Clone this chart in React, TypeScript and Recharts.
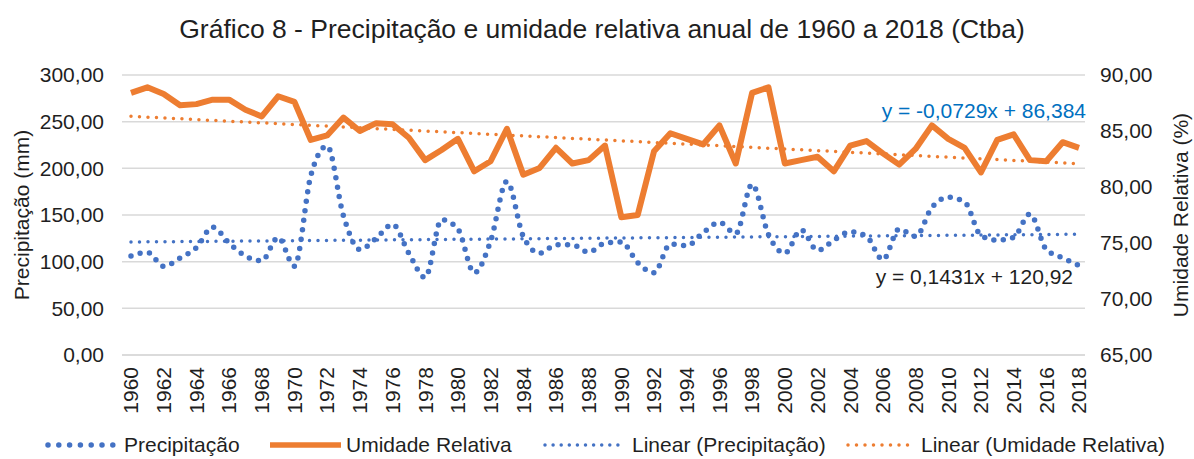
import { ComposedChart, Line, XAxis, YAxis, CartesianGrid } from 'recharts';

const years = [
  1960, 1961, 1962, 1963, 1964, 1965, 1966, 1967, 1968, 1969,
  1970, 1971, 1972, 1973, 1974, 1975, 1976, 1977, 1978, 1979,
  1980, 1981, 1982, 1983, 1984, 1985, 1986, 1987, 1988, 1989,
  1990, 1991, 1992, 1993, 1994, 1995, 1996, 1997, 1998, 1999,
  2000, 2001, 2002, 2003, 2004, 2005, 2006, 2007, 2008, 2009,
  2010, 2011, 2012, 2013, 2014, 2015, 2016, 2017, 2018,
];

const precipitacao = [
  106, 110, 95, 104, 115, 137, 120, 106, 101, 126,
  95, 192, 224, 149, 113, 125, 140, 109, 83, 145,
  135, 88, 122, 186, 127, 109, 118, 118, 110, 120,
  121, 99, 88, 119, 117, 131, 142, 130, 183, 129,
  109, 134, 112, 123, 132, 127, 102, 135, 127, 158,
  169, 164, 128, 123, 126, 151, 113, 104, 96,
];

const umidade = [
  88.4, 88.9, 88.3, 87.3, 87.4, 87.8, 87.8, 86.9, 86.3, 88.1,
  87.6, 84.2, 84.6, 86.2, 85.0, 85.7, 85.6, 84.4, 82.4, 83.3,
  84.3, 81.4, 82.3, 85.2, 81.1, 81.7, 83.5, 82.1, 82.4, 83.7,
  77.3, 77.5, 83.2, 84.8, 84.3, 83.8, 85.5, 82.1, 88.4, 88.9,
  82.1, 82.4, 82.7, 81.4, 83.7, 84.1, 83.0, 82.0, 83.4, 85.5,
  84.3, 83.5, 81.3, 84.2, 84.7, 82.4, 82.3, 84.0, 83.5,
];

// trend line end points (first and last year)
const linearPrecip = [121.06, 129.36];
const linearUmidade = [86.31, 82.08];

const leftTicks = [0, 50, 100, 150, 200, 250, 300];
const rightTicks = [65, 70, 75, 80, 85, 90];

const BLUE = '#4472C4';
const ORANGE = '#ED7D31';
const TEXT = '#1f1f1f';
const FONT = '"Liberation Sans", Arial, sans-serif';
const FS = 21;

const data = years.map((year, i) => ({
  year,
  precip: precipitacao[i],
  umid: umidade[i],
  linP: i === 0 ? linearPrecip[0] : i === years.length - 1 ? linearPrecip[1] : null,
  linU: i === 0 ? linearUmidade[0] : i === years.length - 1 ? linearUmidade[1] : null,
}));

const fmt = (v: number) => v.toFixed(2).replace('.', ',');

function YearTick(props: any) {
  const { x, y, payload } = props;
  return (
    <text
      x={x}
      y={y + 4}
      transform={`rotate(-90, ${x}, ${y + 4})`}
      textAnchor="end"
      dy="0.35em"
      fill={TEXT}
      fontSize={FS}
      fontFamily={FONT}
    >
      {payload.value}
    </text>
  );
}

const legendItems = [
  { x1: 48, x2: 113, tx: 124, label: 'Precipitação', stroke: BLUE, w: 5.5, dash: '0 10.8' },
  { x1: 270, x2: 341, tx: 346, label: 'Umidade Relativa', stroke: ORANGE, w: 5.5, dash: undefined },
  { x1: 545, x2: 626, tx: 632, label: 'Linear (Precipitação)', stroke: BLUE, w: 3.5, dash: '0 8.1' },
  { x1: 848, x2: 908, tx: 921, label: 'Linear (Umidade Relativa)', stroke: ORANGE, w: 3.5, dash: '0 8.5' },
];

function Legend() {
  return (
    <svg width={1194} height={40} style={{ position: 'absolute', left: 0, top: 425 }}>
      {legendItems.map((it) => (
        <g key={it.label}>
          <line
            x1={it.x1}
            y1={20}
            x2={it.x2}
            y2={20}
            stroke={it.stroke}
            strokeWidth={it.w}
            strokeDasharray={it.dash}
            strokeLinecap={it.dash ? 'round' : 'butt'}
          />
          <text x={it.tx} y={20} dy="0.35em" fontSize={FS} fontFamily={FONT} fill={TEXT}>
            {it.label}
          </text>
        </g>
      ))}
    </svg>
  );
}

export default function App() {
  return (
    <div style={{ position: 'absolute', left: 0, top: 0, width: 1194, height: 459, background: '#fff' }}>
      <svg width={1194} height={50} style={{ position: 'absolute', left: 0, top: 0 }}>
        <text x={602} y={38} textAnchor="middle" fontSize={26.5} fontFamily={FONT} fill={TEXT}>
          Gráfico 8 - Precipitação e umidade relativa anual de 1960 a 2018 (Ctba)
        </text>
      </svg>

      <ComposedChart
        width={1194}
        height={459}
        data={data}
        margin={{ top: 75, right: 0, bottom: 0, left: 0 }}
      >
        <CartesianGrid yAxisId="left" vertical={false} stroke="#d9d9d9" strokeWidth={1.5} />
        <XAxis
          dataKey="year"
          interval={1}
          padding={{ left: 9, right: 6 }}
          height={104}
          axisLine={{ stroke: '#d9d9d9', strokeWidth: 1.5 }}
          tickLine={false}
          tick={<YearTick />}
        />
        <YAxis
          yAxisId="left"
          domain={[0, 300]}
          ticks={leftTicks}
          width={122}
          axisLine={false}
          tickLine={false}
          tickSize={0}
          tickMargin={18}
          tickFormatter={fmt}
          tick={{ fill: TEXT, fontSize: FS, fontFamily: FONT }}
        />
        <YAxis
          yAxisId="right"
          orientation="right"
          domain={[65, 90]}
          ticks={rightTicks}
          width={109}
          axisLine={false}
          tickLine={false}
          tickSize={0}
          tickMargin={15}
          tickFormatter={fmt}
          tick={{ fill: TEXT, fontSize: FS, fontFamily: FONT }}
        />
        <Line
          yAxisId="left"
          dataKey="linP"
          stroke={BLUE}
          strokeWidth={3.5}
          strokeDasharray="0 8.5"
          strokeLinecap="round"
          dot={false}
          connectNulls
          isAnimationActive={false}
        />
        <Line
          yAxisId="right"
          dataKey="linU"
          stroke={ORANGE}
          strokeWidth={3.5}
          strokeDasharray="0 8.5"
          strokeLinecap="round"
          dot={false}
          connectNulls
          isAnimationActive={false}
        />
        <Line
          yAxisId="left"
          type="monotone"
          dataKey="precip"
          stroke={BLUE}
          strokeWidth={5.5}
          strokeDasharray="0 9.5"
          strokeLinecap="round"
          dot={false}
          isAnimationActive={false}
        />
        <Line
          yAxisId="right"
          type="linear"
          dataKey="umid"
          stroke={ORANGE}
          strokeWidth={6}
          strokeLinejoin="round"
          dot={false}
          isAnimationActive={false}
        />
      </ComposedChart>

      <div
        style={{
          position: 'absolute',
          left: 22,
          top: 215,
          transform: 'translate(-50%, -50%) rotate(-90deg)',
          fontSize: FS,
          fontFamily: FONT,
          color: TEXT,
          whiteSpace: 'nowrap',
        }}
      >
        Precipitação (mm)
      </div>
      <div
        style={{
          position: 'absolute',
          left: 1181,
          top: 215,
          transform: 'translate(-50%, -50%) rotate(-90deg)',
          fontSize: FS,
          fontFamily: FONT,
          color: TEXT,
          whiteSpace: 'nowrap',
        }}
      >
        Umidade Relativa (%)
      </div>

      <div
        style={{
          position: 'absolute',
          right: 1194 - 1086,
          top: 99,
          fontSize: FS,
          fontFamily: FONT,
          color: '#0070C0',
          whiteSpace: 'nowrap',
        }}
      >
        y = -0,0729x + 86,384
      </div>
      <div
        style={{
          position: 'absolute',
          right: 1194 - 1073,
          top: 265,
          fontSize: FS,
          fontFamily: FONT,
          color: TEXT,
          whiteSpace: 'nowrap',
        }}
      >
        y = 0,1431x + 120,92
      </div>

      <Legend />
    </div>
  );
}
